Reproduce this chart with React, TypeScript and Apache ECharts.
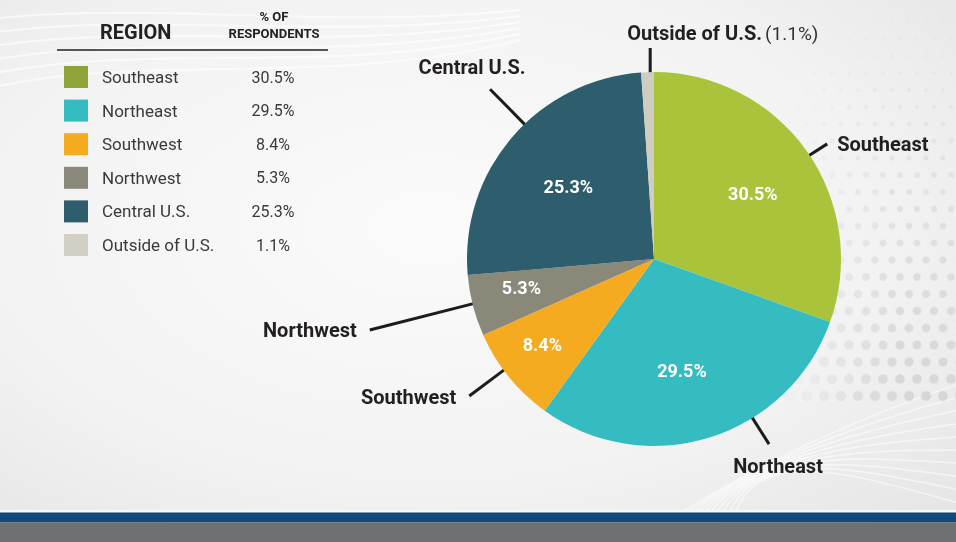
import React, { useEffect, useRef } from 'react';
import * as echarts from 'echarts';

// ---- data ----
const regions = ['Southeast', 'Northeast', 'Southwest', 'Northwest', 'Central U.S.', 'Outside of U.S.'];
const shares = [30.5, 29.5, 8.4, 5.3, 25.3, 1.1];
const shareLabels = ['30.5%', '29.5%', '8.4%', '5.3%', '25.3%', '1.1%'];
const headerRegion = 'REGION';
const headerShare = ['% OF', 'RESPONDENTS'];

// ---- styles ----
const sliceColors = ['#a9c43b', '#35bcc1', '#f5ab1f', '#8a8878', '#2e5d6d', '#cfcdc0'];
const swatchColors = ['#8ea436', '#35bcc1', '#f5ab1f', '#8a8878', '#2e5d6d', '#d2d0c4'];

const W = 956;
const H = 542;
const CX = 654;
const CY = 259;
const R = 187;
const FONT = 'Roboto, "Liberation Sans", Arial, sans-serif';

// leader line / label tweaks per slice (presentation only)
const leader = [
  { shift: 1.4, turn: 1.4, len: 22, dx: 10, dy: 0, align: 'left' },
  { shift: -14.5, turn: -0.6, len: 32, dx: 9, dy: 22, align: 'center' },
  { shift: 2.6, turn: -0.3, len: 44, dx: -13, dy: 1, align: 'right' },
  { shift: 0.6, turn: -0.4, len: 107, dx: -13, dy: 0, align: 'right' },
  { shift: 5.6, turn: -0.7, len: 50, dx: -18, dy: -22, align: 'center' },
  { shift: 0.8, turn: 1.2, len: 25, dx: -23, dy: -15, align: 'left' },
];
const innerNudge = [
  { dx: -3, dy: 6 },
  { dx: -9, dy: -7 },
  { dx: -15, dy: 7 },
  { dx: -12, dy: -3 },
  { dx: 9, dy: 8 },
  { dx: 0, dy: 0 },
];

function midAngles(): number[] {
  const total = shares.reduce((a, b) => a + b, 0);
  let cum = 0;
  return shares.map((v) => {
    const m = ((cum + v / 2) / total) * 360;
    cum += v;
    return m;
  });
}

function buildBackground(): any[] {
  const els: any[] = [];
  els.push({
    type: 'rect',
    shape: { x: 0, y: 0, width: W, height: H },
    style: {
      fill: new echarts.graphic.RadialGradient(0.45, 0.42, 0.8, [
        { offset: 0, color: '#fbfbfb' },
        { offset: 0.6, color: '#f2f2f2' },
        { offset: 1, color: '#e3e3e3' },
      ]),
    },
    silent: true,
  });
  // faint streaks top-left
  for (let i = 0; i < 6; i++) {
    els.push({
      type: 'bezierCurve',
      shape: { x1: -20, y1: 20 + i * 14, cpx1: 150, cpy1: 0 + i * 10, cpx2: 320, cpy2: 30 + i * 12, x2: 520, y2: 10 + i * 6 },
      style: { stroke: 'rgba(255,255,255,0.6)', lineWidth: 2, fill: null },
      silent: true,
    });
  }
  // swooshes bottom-right
  for (let i = 0; i < 10; i++) {
    els.push({
      type: 'bezierCurve',
      shape: { x1: 640 + i * 10, y1: 540, cpx1: 740, cpy1: 470 - i * 4, cpx2: 850, cpy2: 420 + i * 6, x2: 970, y2: 380 + i * 14 },
      style: { stroke: 'rgba(255,255,255,0.55)', lineWidth: 1.5, fill: null },
      silent: true,
    });
  }
  // dot pattern on the right
  for (let j = 0; j < 23; j++) {
    const y = 22 + j * 17;
    for (let k = 0; k < 11; k++) {
      const x = 790 + k * 17 + (j % 2) * 8;
      if (x > W + 5) continue;
      const t = j / 22;
      const fade = Math.min(1, Math.max(0, (x - 780) / 120));
      els.push({
        type: 'circle',
        shape: { cx: x, cy: y, r: 1.2 + t * 4 },
        style: { fill: '#d4d4d4', stroke: '#e9e9e9', lineWidth: 1, opacity: (0.2 + 0.7 * t) * fade },
        silent: true,
      });
    }
  }
  // bottom bars
  els.push({ type: 'rect', shape: { x: 0, y: 510, width: W, height: 3 }, style: { fill: '#f7f8f8' }, silent: true });
  els.push({ type: 'rect', shape: { x: 0, y: 512.5, width: W, height: 10 }, style: { fill: '#12497b' }, silent: true });
  els.push({ type: 'rect', shape: { x: 0, y: 522.5, width: W, height: 20 }, style: { fill: '#6e7073' }, silent: true });
  return els;
}

function buildLegend(): any[] {
  const els: any[] = [];
  els.push({
    type: 'text', x: 100, y: 32,
    style: { text: headerRegion, fontFamily: FONT, fontSize: 20, fontWeight: 'bold', fill: '#222', verticalAlign: 'middle', align: 'left' },
  });
  headerShare.forEach((t, i) => {
    els.push({
      type: 'text', x: 274, y: 16 + i * 17,
      style: { text: t, fontFamily: FONT, fontSize: 13, fontWeight: 'bold', fill: '#222', verticalAlign: 'middle', align: 'center' },
    });
  });
  els.push({ type: 'line', shape: { x1: 57, y1: 50, x2: 328, y2: 50 }, style: { stroke: '#555', lineWidth: 2 } });
  regions.forEach((name, i) => {
    const yc = 77 + i * 33.6;
    els.push({ type: 'rect', shape: { x: 64, y: yc - 11, width: 24, height: 22 }, style: { fill: swatchColors[i] } });
    els.push({
      type: 'text', x: 102, y: yc,
      style: { text: name, fontFamily: FONT, fontSize: 17, fill: '#3a3a3a', verticalAlign: 'middle', align: 'left' },
    });
    els.push({
      type: 'text', x: 273, y: yc,
      style: { text: shareLabels[i], fontFamily: FONT, fontSize: 16, fill: '#3a3a3a', verticalAlign: 'middle', align: 'center' },
    });
  });
  return els;
}

export default function App() {
  const ref = useRef<HTMLDivElement>(null);

  useEffect(() => {
    if (!ref.current) return;
    const chart = echarts.init(ref.current, undefined, { renderer: 'svg' });
    const mids = midAngles();
    const rad = (d: number) => (d * Math.PI) / 180;

    const option: any = {
      animation: false,
      textStyle: { fontFamily: FONT },
      graphic: { elements: [...buildBackground(), ...buildLegend()] },
      series: [
        {
          type: 'pie',
          center: [CX, CY],
          radius: R,
          startAngle: 90,
          clockwise: true,
          avoidLabelOverlap: false,
          silent: true,
          z: 2,
          emphasis: { disabled: true },
          data: regions.map((name, i) => ({ name, value: shares[i], itemStyle: { color: sliceColors[i] } })),
          label: {
            show: true,
            position: 'outside',
            formatter: (p: any) =>
              p.value < 2 ? `{b|${p.name}} {n|(${shareLabels[p.dataIndex]})}` : `{b|${p.name}}`,
            rich: {
              b: { fontFamily: FONT, fontSize: 20, fontWeight: 'bold', color: '#231f20' },
              n: { fontFamily: FONT, fontSize: 19, color: '#333' },
            },
          },
          labelLine: { show: true, length: 20, length2: 0, lineStyle: { color: '#1c1c1c', width: 3 } },
          labelLayout: (p: any) => {
            const s = leader[p.dataIndex];
            const a = mids[p.dataIndex] + s.shift;
            const d = a + s.turn;
            const sx = CX + (R - 1) * Math.sin(rad(a));
            const sy = CY - (R - 1) * Math.cos(rad(a));
            const ex = sx + s.len * Math.sin(rad(d));
            const ey = sy - s.len * Math.cos(rad(d));
            return {
              x: ex + s.dx,
              y: ey + s.dy,
              align: s.align,
              verticalAlign: 'middle',
              labelLinePoints: [[sx, sy], [ex, ey]],
            };
          },
        },
        {
          type: 'pie',
          center: [CX, CY],
          radius: [R * 0.4, R * 0.9],
          startAngle: 90,
          clockwise: true,
          avoidLabelOverlap: false,
          silent: true,
          z: 3,
          emphasis: { disabled: true },
          itemStyle: { color: 'rgba(0,0,0,0)', borderWidth: 0 },
          data: regions.map((name, i) => ({ name, value: shares[i] })),
          label: {
            show: true,
            position: 'inside',
            rotate: 0,
            formatter: (p: any) => (p.value < 2 ? '' : shareLabels[p.dataIndex]),
            color: '#ffffff',
            fontFamily: FONT,
            fontSize: 18,
            fontWeight: 'bold',
          },
          labelLine: { show: false },
          labelLayout: (p: any) => ({ dx: innerNudge[p.dataIndex].dx, dy: innerNudge[p.dataIndex].dy }),
        },
      ],
    };
    chart.setOption(option);
    return () => chart.dispose();
  }, []);

  return (
    <div
      ref={ref}
      style={{ position: 'fixed', left: 0, top: 0, width: W, height: H }}
    />
  );
}
